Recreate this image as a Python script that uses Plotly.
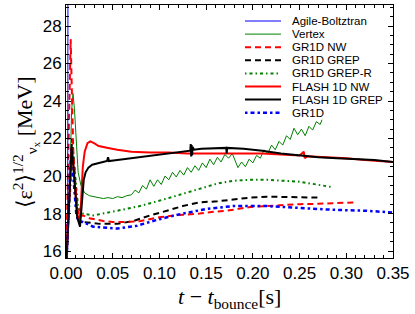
import plotly.graph_objects as go

# ---------------- data ----------------
agile_t = [0.0, 0.0018, 0.0021, 0.0024]
agile_e = [14.0, 16.0, 31.0, 33.0]

vertex_t = [0.0, 0.004, 0.006, 0.0075, 0.009, 0.011, 0.013, 0.016, 0.020, 0.025,
            0.030, 0.035, 0.040, 0.045, 0.050, 0.055, 0.060, 0.065,
            0.070, 0.074, 0.078, 0.082, 0.086, 0.090, 0.094, 0.098, 0.102, 0.106,
            0.110, 0.114, 0.118, 0.122, 0.126, 0.130, 0.134, 0.138, 0.142, 0.146,
            0.150, 0.154, 0.158, 0.162, 0.166, 0.170, 0.174, 0.178, 0.181, 0.184,
            0.188, 0.192, 0.196, 0.200, 0.204, 0.208, 0.212, 0.216, 0.220, 0.224,
            0.228, 0.232, 0.236, 0.240, 0.244, 0.248, 0.252, 0.256, 0.260, 0.264,
            0.268, 0.272, 0.274]
vertex_e = [15.0, 19.5, 23.5, 24.4, 23.6, 21.5, 20.2, 19.5, 19.1, 18.95,
            18.9, 18.85, 18.8, 18.85, 18.8, 18.9, 18.85, 18.95,
            19.0, 19.25, 19.1, 19.5, 19.3, 19.8, 19.45, 19.8, 19.55, 20.0,
            19.8, 20.2, 19.95, 20.3, 20.05, 20.45, 20.2, 20.55, 20.3, 20.7,
            20.45, 20.9, 20.6, 21.0, 20.75, 21.15, 20.95, 21.2, 20.85, 20.45,
            20.75, 20.5, 20.9, 20.7, 21.1, 20.95, 21.4, 21.2, 21.65, 21.4,
            21.85, 21.65, 22.15, 21.95, 22.55, 22.2, 22.5, 22.15, 22.65, 22.45,
            22.9, 22.75, 23.0]

gr1d_nw_t = [0.0, 0.003, 0.005, 0.0065, 0.008, 0.010, 0.012, 0.014, 0.018, 0.025,
             0.030, 0.040, 0.050, 0.065, 0.080, 0.090, 0.100, 0.115, 0.130, 0.143,
             0.158, 0.172, 0.185, 0.197, 0.215, 0.230, 0.250, 0.270, 0.286, 0.310]
gr1d_nw_e = [15.0, 22.0, 27.3, 24.0, 21.0, 19.5, 18.3, 17.8, 17.9, 17.75,
             17.7, 17.6, 17.55, 17.55, 17.6, 17.7, 17.8, 17.9, 17.95, 18.0,
             18.1, 18.15, 18.25, 18.35, 18.4, 18.45, 18.5, 18.52, 18.55, 18.6]

gr1d_grep_t = [0.0, 0.004, 0.0065, 0.008, 0.010, 0.012, 0.014, 0.018, 0.036, 0.055,
               0.072, 0.090, 0.108, 0.125, 0.143, 0.162, 0.179, 0.197, 0.215, 0.250, 0.270]
gr1d_grep_e = [15.0, 19.0, 22.0, 21.0, 19.5, 18.2, 17.6, 17.55, 17.45, 17.45,
               17.6, 17.9, 18.15, 18.4, 18.6, 18.65, 18.75, 18.85, 18.9, 18.85, 18.85]

gr1d_grepr_t = [0.0, 0.005, 0.007, 0.009, 0.011, 0.013, 0.018, 0.029, 0.055, 0.079,
                0.108, 0.125, 0.143, 0.162, 0.179, 0.197, 0.215, 0.250, 0.286]
gr1d_grepr_e = [15.0, 19.5, 21.5, 20.5, 19.2, 18.3, 18.0, 17.9, 18.15, 18.4,
                18.8, 19.05, 19.3, 19.6, 19.75, 19.8, 19.8, 19.7, 19.4]

flash_nw_t = [0.0, 0.004, 0.006, 0.008, 0.010, 0.012, 0.0145, 0.016, 0.018, 0.020,
              0.023, 0.026, 0.030, 0.035, 0.045, 0.055, 0.070, 0.090, 0.110, 0.130,
              0.150, 0.170, 0.190, 0.210, 0.230, 0.250, 0.2545, 0.2555, 0.258, 0.280,
              0.300, 0.320, 0.350]
flash_nw_e = [15.0, 19.5, 21.5, 20.5, 19.0, 18.0, 17.5, 18.5, 20.5, 21.3,
              21.75, 21.85, 21.75, 21.6, 21.5, 21.4, 21.3, 21.25, 21.25, 21.2,
              21.2, 21.2, 21.2, 21.2, 21.15, 21.1, 21.3, 20.95, 21.05, 21.0,
              20.95, 20.85, 20.75]

flash_grep_t = [0.0, 0.004, 0.006, 0.008, 0.010, 0.012, 0.015, 0.017, 0.019, 0.021,
                0.024, 0.028, 0.035, 0.044, 0.045, 0.046, 0.055, 0.070, 0.090, 0.110,
                0.125, 0.133, 0.1335, 0.134, 0.1345, 0.135, 0.1355, 0.137, 0.145, 0.160,
                0.1715, 0.172, 0.1725, 0.190, 0.210, 0.230, 0.250, 0.270, 0.290, 0.310,
                0.330, 0.350]
flash_grep_e = [15.0, 19.5, 21.5, 20.5, 19.0, 17.8, 17.3, 18.5, 19.8, 20.2,
                20.45, 20.6, 20.7, 20.8, 21.0, 20.8, 20.85, 20.95, 21.1, 21.2,
                21.3, 21.35, 21.7, 21.05, 21.65, 21.1, 21.55, 21.4, 21.45, 21.5,
                21.5, 21.2, 21.5, 21.45, 21.35, 21.2, 21.1, 21.0, 20.95, 20.9,
                20.85, 20.75]

gr1d_t = [0.0, 0.004, 0.0055, 0.007, 0.009, 0.011, 0.013, 0.018, 0.029, 0.055,
          0.076, 0.100, 0.125, 0.151, 0.179, 0.197, 0.215, 0.250, 0.286, 0.322, 0.350]
gr1d_e = [15.0, 19.5, 21.4, 20.5, 19.0, 18.0, 17.6, 17.55, 17.3, 17.2,
          17.35, 17.7, 18.0, 18.25, 18.4, 18.4, 18.4, 18.3, 18.2, 18.15, 18.05]

names = ["Agile-Boltztran", "Vertex", "GR1D NW", "GR1D GREP", "GR1D GREP-R",
         "FLASH 1D NW", "FLASH 1D GREP", "GR1D"]
x_ticks = [0.0, 0.05, 0.10, 0.15, 0.20, 0.25, 0.30, 0.35]
y_ticks = [16, 18, 20, 22, 24, 26, 28]

# ---------------- styles ----------------
styles = [
    dict(color="#0000ff", width=1, dash="solid"),
    dict(color="#008000", width=1, dash="solid"),
    dict(color="#ff0000", width=2, dash="6px,4px"),
    dict(color="#000000", width=2, dash="6px,4px"),
    dict(color="#008000", width=2, dash="1.5px,3px,3px,3px"),
    dict(color="#ff0000", width=2, dash="solid"),
    dict(color="#000000", width=2, dash="solid"),
    dict(color="#0000ff", width=2.5, dash="2.5px,3px,4px,3px"),
]
series = [(agile_t, agile_e), (vertex_t, vertex_e), (gr1d_nw_t, gr1d_nw_e),
          (gr1d_grep_t, gr1d_grep_e), (gr1d_grepr_t, gr1d_grepr_e),
          (flash_nw_t, flash_nw_e), (flash_grep_t, flash_grep_e), (gr1d_t, gr1d_e)]

fig = go.Figure()
order = [1, 4, 3, 2, 7, 5, 6, 0]
for i in order:
    t, e = series[i]
    fig.add_trace(go.Scatter(x=t, y=e, mode="lines", name=names[i],
                             line=styles[i], showlegend=False))

# ---------------- layout ----------------
L, R, T, B = 66, 22, 5, 56
W, H = 415, 314
pw, ph = W - L - R, H - T - B

def px_x(px):
    return (px - L) / pw

def px_y(py):
    return (H - B - py) / ph

shapes = []
annotations = []
for i, nm in enumerate(names):
    py = 21 + 13.1 * i
    st = styles[i]
    shapes.append(dict(type="line", xref="paper", yref="paper",
                       x0=px_x(245), x1=px_x(281), y0=px_y(py), y1=px_y(py),
                       line=dict(color=st["color"], width=st["width"], dash=st["dash"])))
    annotations.append(dict(text=nm, xref="paper", yref="paper", x=px_x(290), y=px_y(py),
                            xanchor="left", yanchor="middle", showarrow=False,
                            font=dict(family="Liberation Sans, Arial", size=11.5, color="black")))

annotations.append(dict(text="⟨ε<sup>2</sup>⟩<sup>1/2</sup><sub>ν<sub>x</sub></sub> [MeV]",
                        xref="paper", yref="paper", x=px_x(25), y=px_y(142),
                        xanchor="center", yanchor="middle", textangle=-90, showarrow=False,
                        font=dict(family="Liberation Serif, DejaVu Serif", size=22, color="black")))
annotations.append(dict(text="<i>t</i> − <i>t</i><sub>bounce</sub>[s]",
                        xref="paper", yref="paper", x=px_x(230), y=px_y(298),
                        xanchor="center", yanchor="middle", showarrow=False,
                        font=dict(family="Liberation Serif, DejaVu Serif", size=22, color="black")))

axis_common = dict(showline=True, linecolor="black", linewidth=1, mirror="allticks",
                   ticks="inside", ticklen=5, tickcolor="black", showgrid=False,
                   zeroline=False,
                   tickfont=dict(family="Liberation Sans, Arial", size=17, color="black"))

fig.update_layout(
    width=W, height=H,
    margin=dict(l=L, r=R, t=T, b=B),
    paper_bgcolor="white", plot_bgcolor="white",
    showlegend=False, hovermode=False,
    shapes=shapes, annotations=annotations,
    xaxis=dict(range=[0, 0.35], tickvals=x_ticks, ticktext=[f"{v:.2f}" for v in x_ticks],
               minor=dict(ticks="inside", ticklen=3, dtick=0.01, tick0=0, tickcolor="black"),
               **axis_common),
    yaxis=dict(range=[15.63, 29.12], tickvals=y_ticks, ticktext=[str(v) for v in y_ticks],
               minor=dict(ticks="inside", ticklen=3, dtick=0.5, tick0=0, tickcolor="black"),
               **axis_common),
)

fig.write_html("out.html", config={"displayModeBar": False, "staticPlot": True},
               post_script="document.body.style.margin='0px';document.body.style.overflow='hidden';")
